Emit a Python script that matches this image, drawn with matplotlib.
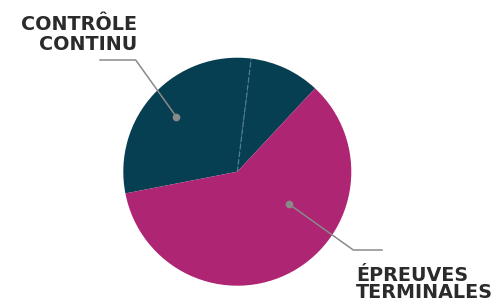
import matplotlib
matplotlib.use("Agg")
import matplotlib.pyplot as plt
import numpy as np

# Data
categories = ["Contrôle continu (bulletins)", "Contrôle continu (évaluations)", "Épreuves terminales"]
values = [10, 30, 60]
colors = ["#073f52", "#073f52", "#ae2573"]
labels = ["CONTRÔLE\nCONTINU", "ÉPREUVES\nTERMINALES"]

W, H = 498, 301
fig = plt.figure(figsize=(W / 100, H / 100), dpi=100)
ax = fig.add_axes([0, 0, 1, 1])

cx, cy, r = 237.3, H - 171.7, 114
wedges, _ = ax.pie(values, colors=colors, startangle=47, counterclock=True,
                   center=(cx, cy), radius=r, frame=True,
                   wedgeprops=dict(linewidth=0))
ax.set_xlim(0, W)
ax.set_ylim(0, H)
ax.axis("off")
ax.set_aspect("equal")

# dashed separator between the two teal slices
th = np.deg2rad(wedges[0].theta2)
ax.plot([cx, cx + r * np.cos(th)], [cy, cy + r * np.sin(th)],
        color="#4f7f8f", lw=0.9, ls=(0, (4, 2)))

lc = "#8a8a8a"
# leader for contrôle continu
ax.plot([100, 135.7, 176.3], [H - 60, H - 60, H - 116.7], color=lc, lw=1.1)
ax.plot([176.3], [H - 116.7], "o", color=lc, ms=4.5)
# leader for épreuves terminales
ax.plot([289.3, 353.3, 382], [H - 204.3, H - 250, H - 250], color=lc, lw=1.1)
ax.plot([289.3], [H - 204.3], "o", color=lc, ms=4.5)

tc = "#2b2b2b"
fs = 13.8
ax.text(137, H - 50, labels[0], ha="right", va="baseline", fontsize=fs,
        family="DejaVu Sans", weight="bold", color=tc, linespacing=1.07,
        multialignment="right")
ax.text(356, H - 298.3, labels[1], ha="left", va="baseline", fontsize=fs,
        family="DejaVu Sans", weight="bold", color=tc, linespacing=0.89,
        multialignment="left")

fig.savefig("out.png", dpi=100)
